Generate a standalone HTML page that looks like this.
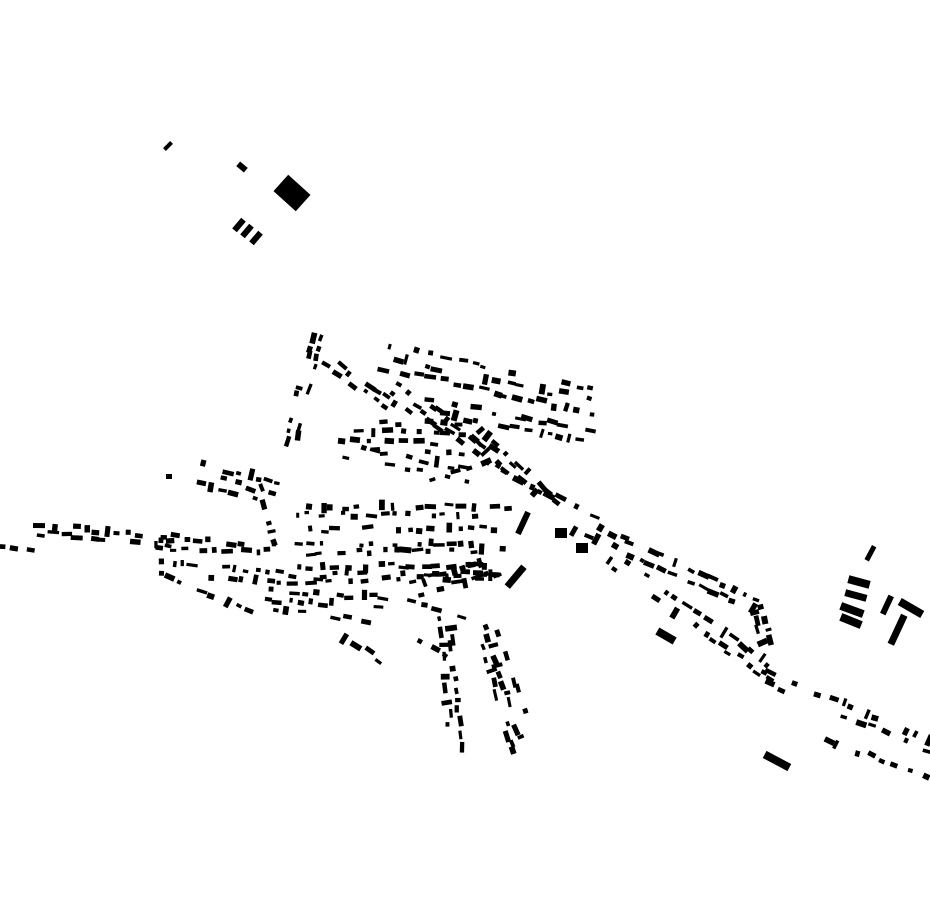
<!DOCTYPE html>
<html><head><meta charset="utf-8"><style>html,body{margin:0;padding:0;background:#fff;width:930px;height:924px;overflow:hidden}svg{display:block}</style></head>
<body>
<svg id="s" width="930" height="924" viewBox="0 0 930 924" xmlns="http://www.w3.org/2000/svg">
<rect width="930" height="924" fill="#fff"/>
<g fill="#000">
<rect x="163" y="144" width="10" height="4" transform="rotate(-45 168 146)"/>
<rect x="237" y="164" width="10" height="6" transform="rotate(40 242 167)"/>
<rect x="277" y="182" width="30" height="22" transform="rotate(42 292 193)"/>
<rect x="232" y="222" width="14" height="6" transform="rotate(-50 239 225)"/>
<rect x="240" y="228" width="14" height="6" transform="rotate(-50 247 231)"/>
<rect x="249" y="235" width="14" height="6" transform="rotate(-50 256 238)"/>
<rect x="862" y="551" width="16" height="5" transform="rotate(-62 870 553)"/>
<rect x="848" y="578" width="22" height="8" transform="rotate(15 859 582)"/>
<rect x="845" y="592" width="22" height="7" transform="rotate(15 856 595)"/>
<rect x="840" y="606" width="24" height="8" transform="rotate(20 852 610)"/>
<rect x="840" y="617" width="22" height="8" transform="rotate(22 851 621)"/>
<rect x="877" y="602" width="20" height="6" transform="rotate(-65 887 605)"/>
<rect x="898" y="604" width="26" height="8" transform="rotate(30 911 608)"/>
<rect x="882" y="626" width="32" height="7" transform="rotate(-65 898 630)"/>
<rect x="763" y="757" width="28" height="8" transform="rotate(28 777 761)"/>
<rect x="656" y="632" width="20" height="8" transform="rotate(30 666 636)"/>
<rect x="503" y="573" width="26" height="7" transform="rotate(-50 516 577)"/>
<rect x="511" y="520" width="24" height="6" transform="rotate(-65 523 523)"/>
<rect x="555" y="528" width="12" height="10"/>
<rect x="576" y="543" width="12" height="10"/>
<rect x="166" y="474" width="6" height="5"/>
</g>
<g id="gen" fill="#000"></g>
</svg>
<script>
var seed=12345;function r(){seed=(seed*1103515245+12345)%2147483648;return seed/2147483648;}
var segs=[
[40,525,180,538,10,[0,8]],
[0,548,35,552,10,[0]],
[160,548,285,552,10,[0,-8]],
[160,562,300,575,10,[0,9]],
[170,578,270,620,11,[0]],
[270,590,390,598,10,[0,10]],
[275,610,370,622,11,[0]],
[300,515,510,515,10,[0,-8]],
[300,530,510,528,10,[0]],
[300,546,510,542,10,[0,7]],
[300,567,500,565,10,[0,8]],
[300,582,500,576,10,[0]],
[205,465,280,485,10,[0,10,20]],
[260,490,275,545,10,[0]],
[322,340,295,445,9,[0,10]],
[330,360,410,415,10,[0,8]],
[390,345,600,390,11,[0,12,24]],
[400,385,520,470,10,[0,10]],
[430,400,590,430,11,[0,12]],
[340,420,470,425,13,[0,10,20,30]],
[350,445,470,470,13,[0,12]],
[430,480,490,460,10,[0]],
[480,430,560,505,9,[0,10]],
[520,480,600,520,10,[0]],
[580,520,760,600,10,[0,12]],
[590,550,770,680,10,[0,-12]],
[760,600,772,640,9,[0,10]],
[760,680,930,750,10,[0,-10]],
[780,720,930,780,11,[0]],
[405,585,500,560,10,[0,12]],
[400,600,480,620,11,[0]],
[450,620,462,750,10,[0,10]],
[485,625,525,750,10,[0,-10,10]],
[420,640,445,655,9,[0]],
[330,630,380,660,13,[0]]
];
var out='';
segs.forEach(function(s){
 var dx=s[2]-s[0],dy=s[3]-s[1],L=Math.sqrt(dx*dx+dy*dy),a=Math.atan2(dy,dx)*180/Math.PI;
 var nx=-dy/L,ny=dx/L;
 s[5].forEach(function(off){
  for(var t=0;t<L;t+=s[4]*(0.8+r()*0.6)){
   if(r()<0.28)continue;
   var cx=s[0]+dx*t/L+nx*off+(r()-0.5)*5,cy=s[1]+dy*t/L+ny*off+(r()-0.5)*5;
   var w=4+r()*8,h=3+r()*3;
   var ang=a+(r()<0.2?90:0)+(r()-0.5)*14;
   out+='<rect x="'+(cx-w/2).toFixed(1)+'" y="'+(cy-h/2).toFixed(1)+'" width="'+w.toFixed(1)+'" height="'+h.toFixed(1)+'" transform="rotate('+ang.toFixed(1)+' '+cx.toFixed(1)+' '+cy.toFixed(1)+')"/>';
  }
 });
});
document.getElementById('gen').innerHTML=out;
</script>
</body></html>
